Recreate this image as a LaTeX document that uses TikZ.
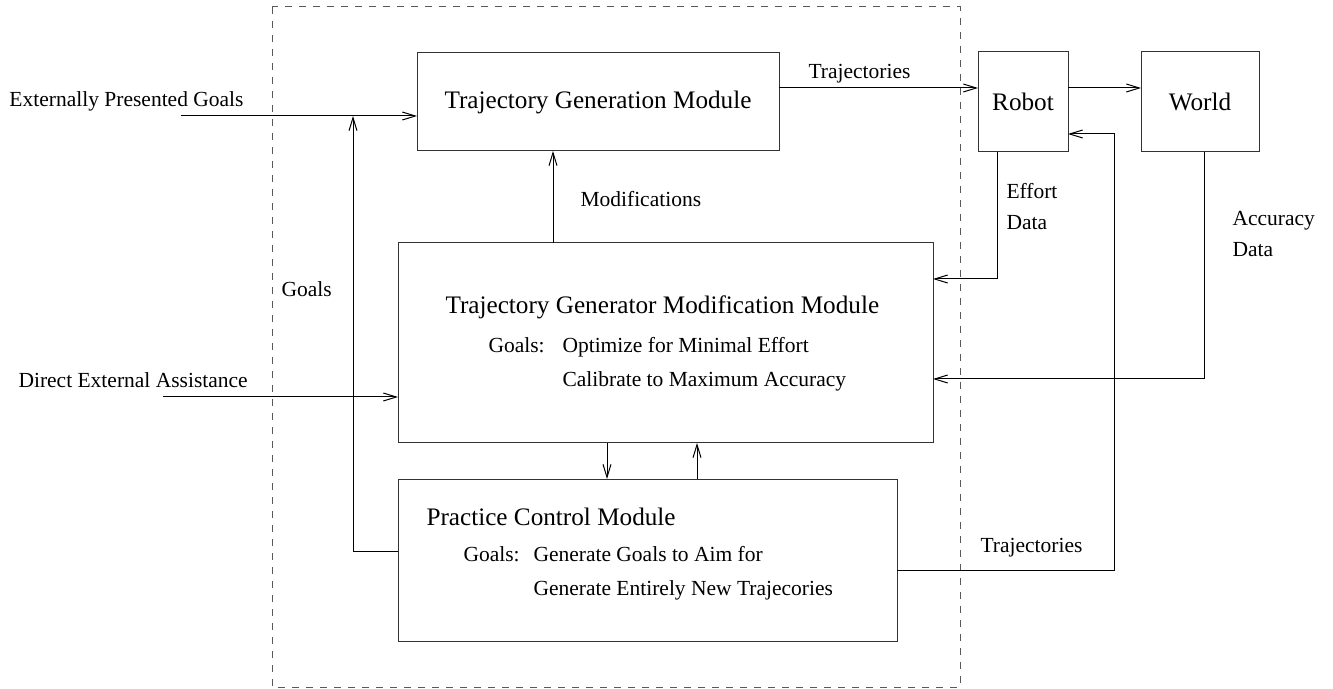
\documentclass[tikz,border=0pt]{standalone}
\usepackage{fontspec}
\setmainfont{Liberation Serif}
\usetikzlibrary{arrows.meta}

\begin{document}
\begin{tikzpicture}[x=0.5pt, y=-0.5pt, line width=0.5pt,
    >={Straight Barb[length=6.5pt, width=4pt]},
    module/.style={draw=black!80, inner sep=0pt, outer sep=0pt, font=\fontsize{12.6}{15}\selectfont},
    title/.style={anchor=base west, inner sep=0pt, font=\fontsize{12.6}{15}\selectfont},
    lbl/.style={anchor=base west, inner sep=0pt, font=\fontsize{10.75}{13}\selectfont}]
  \useasboundingbox (0,0) rectangle (1333,689);
  \draw[black!65, dash pattern=on 3.5pt off 3.5pt] (272,7) rectangle (960,687);
  % boxes
  \node[module, minimum width=181pt, minimum height=49pt] (tgm) at (598,102) {Trajectory Generation Module};
  \node[module, minimum width=45pt, minimum height=50pt] (robot) at (1023,102) {Robot};
  \node[module, minimum width=59pt, minimum height=50pt] (world) at (1200,102) {World};
  \node[module, minimum width=267.5pt, minimum height=100pt] (tgmm) at (665.5,343) {};
  \node[module, minimum width=249.5pt, minimum height=81pt] (pcm) at (647.5,560) {};
  % texts in the boxes
  \node[title] (tgmmtitle) at (445,314) {Trajectory Generator Modification Module};
  \node[lbl] (tgmmgoals) at (488,353) {Goals:};
  \node[lbl] (tgmmopt) at (562,353) {Optimize for Minimal Effort};
  \node[lbl] (tgmmcal) at (562,387) {Calibrate to Maximum Accuracy};
  \node[title] (pcmtitle) at (426,525) {Practice Control Module};
  \node[lbl] (pcmgoals) at (463,561) {Goals:};
  \node[lbl] (pcmaim) at (533,561) {Generate Goals to Aim for};
  \node[lbl] (pcmnew) at (533,595) {Generate Entirely New Trajecories};
  % labels
  \node[lbl] (epg) at (9,107) {Externally Presented Goals};
  \node[lbl] (dea) at (18,388) {Direct External Assistance};
  \node[lbl] (trajtop) at (808,79) {Trajectories};
  \node[lbl] (mods) at (580,207) {Modifications};
  \node[lbl] (goals) at (281,297) {Goals};
  \node[lbl] (effort) at (1006,199) {Effort};
  \node[lbl] (effdata) at (1006,230) {Data};
  \node[lbl] (accuracy) at (1232,226) {Accuracy};
  \node[lbl] (accdata) at (1232,257) {Data};
  \node[lbl] (trajbot) at (980,552) {Trajectories};
  % connectors
  \coordinate (epgstart) at (181,116);
  \coordinate (goalsjoin) at (353,116);
  \coordinate (deastart) at (163,397);
  \coordinate (modx) at (553,0);
  \coordinate (downx) at (607,0);
  \coordinate (upx) at (697,0);
  \coordinate (effcorner) at (997,279);
  \coordinate (acccorner) at (1204,379);
  \coordinate (trajcorner) at (1114,570);
  \coordinate (trajup) at (1114,134);
  \draw[->] ([yshift=7pt]tgm.east) -- ([yshift=7pt]robot.west);
  \draw[->] ([yshift=7pt]robot.east) -- ([yshift=7pt]world.west);
  \draw[->] (epgstart) -- (epgstart -| tgm.west);
  \draw[->] ([yshift=4.5pt]pcm.west) -| (goalsjoin);
  \draw[->] (modx |- tgmm.north) -- (modx |- tgm.south);
  \draw[->] (robot.south -| effcorner) |- (tgmm.east |- effcorner);
  \draw[->] (world.south -| acccorner) |- (tgmm.east |- acccorner);
  \draw[->] (deastart) -- (deastart -| tgmm.west);
  \draw[->] (downx |- tgmm.south) -- (downx |- pcm.north);
  \draw[->] (upx |- pcm.north) -- (upx |- tgmm.south);
  \draw[->] (pcm.east |- trajcorner) -| (trajup) -- (trajup -| robot.east);
\end{tikzpicture}
\end{document}
